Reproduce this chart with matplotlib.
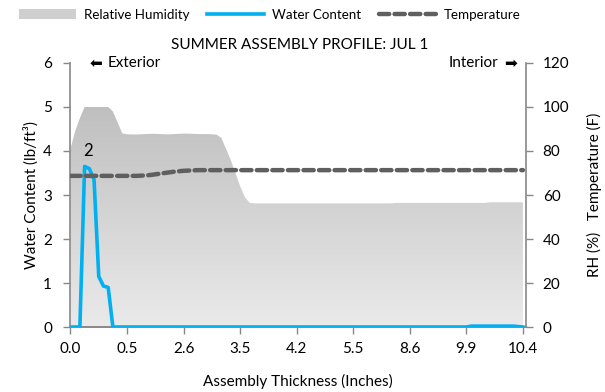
import numpy as np
from matplotlib import pyplot as plt
from matplotlib.patches import Patch
from matplotlib.lines import Line2D
from matplotlib.colors import LinearSegmentedColormap

plt.rcParams['font.family'] = ['Lato', 'DejaVu Sans']

# Category axis (mesh points through the assembly), 97 points
x_labels = ['0.0', '0.5', '2.6', '3.5', '4.2', '5.5', '8.6', '9.9', '10.4']
label_step = 12

# Water content (lb/ft3), left axis
water = [0, 0, 0, 3.65, 3.6, 3.35, 1.15, 0.93, 0.9] + [0] * 76 + [0.02] * 10 + [0.01, 0]

# Relative humidity (%), right axis
rh = ([81, 89, 95, 100, 100, 100, 100, 100, 100, 98, 93, 88,
       87.6, 87.5, 87.5, 87.6, 87.7, 87.8, 87.8, 87.7, 87.6, 87.6, 87.7, 87.8,
       87.9, 87.9, 87.8, 87.7, 87.7, 87.7, 87.6, 87.4,
       86, 81, 76, 70, 64, 59, 56.5]
      + [56.2] * 30 + [56.4] * 20 + [56.7] * 8)

# Temperature (F), right axis
temp = ([68.7] * 15 + [68.8, 68.9, 69.1, 69.4, 69.7, 70.0, 70.3, 70.6, 70.8,
                       71.0, 71.1, 71.2] + [71.3] * 70)

n = len(water)
idx = np.arange(n)

fig = plt.figure(figsize=(6.05, 3.92), dpi=100)
ax1 = fig.add_axes([0.1157, 0.1658, 0.7537, 0.6735])
ax2 = ax1.twinx()

# RH area with vertical gray gradient
poly = ax2.fill_between(idx, 0, rh, color='none', lw=0)
grad = np.linspace(0, 1, 256).reshape(-1, 1)
cmap = LinearSegmentedColormap.from_list('g', ['#eaeaea', '#bdbdbd'])
img = ax2.imshow(grad, cmap=cmap, origin='lower', aspect='auto',
                 extent=[0, n - 1, 0, 105], zorder=1)
img.set_clip_path(poly.get_paths()[0], transform=ax2.transData)

# water content on top of RH; temperature on top of water
ax1.set_zorder(ax2.get_zorder() + 1)
ax1.patch.set_visible(False)
ax1.plot(idx, water, color='#00b0f0', lw=2.6, solid_joinstyle='round', zorder=3)
ax1.plot(idx, temp, transform=ax2.transData, color='#5f5f5f', lw=3.2,
         dashes=(2.3, 1.2), dash_capstyle='round', zorder=4)

ax1.set_xlim(-0.1, n - 1 + 0.65)
ax1.set_ylim(0, 6)
ax2.set_ylim(0, 120)
ax1.set_yticks(range(0, 7))
ax2.set_yticks(range(0, 121, 20))
ax1.set_xticks(idx[::label_step])
ax1.set_xticklabels(x_labels)

for ax in (ax1, ax2):
    for s in ax.spines.values():
        s.set_color('#888888')
        s.set_linewidth(1.2)
    ax.spines['top'].set_visible(False)
    ax.tick_params(colors='#888888', labelcolor='black', labelsize=11, length=5, width=1)
ax1.spines['right'].set_visible(False)
ax2.spines['left'].set_visible(False)
ax1.tick_params(axis='x', pad=6)
ax1.tick_params(axis='y', pad=8)
ax2.tick_params(axis='y', pad=7)

ax1.set_ylabel('Water Content (lb/ft\u00b3)', fontsize=11, labelpad=3)
ax2.set_ylabel('RH (%)   Temperature (F)', fontsize=11, labelpad=13)
ax1.set_xlabel('Assembly Thickness (Inches)', fontsize=11, labelpad=13)

fig.text(0.495, 0.885, 'SUMMER ASSEMBLY PROFILE: JUL 1', ha='center', va='center', fontsize=11)
ax1.text(0.083, 1.0, 'Exterior', transform=ax1.transAxes, ha='left', va='center', fontsize=11)
ax1.text(0.058, 1.0, '\u2b05', transform=ax1.transAxes, ha='center', va='center', fontsize=11,
         family='DejaVu Sans')
ax1.text(0.94, 1.0, 'Interior', transform=ax1.transAxes, ha='right', va='center', fontsize=11)
ax1.text(0.967, 1.0, '\u27a1', transform=ax1.transAxes, ha='center', va='center', fontsize=11,
         family='DejaVu Sans')
ax1.text(3.7, 4.0, '2', ha='center', va='center', fontsize=12)

handles = [Patch(facecolor='#cfcfcf', edgecolor='none'),
           Line2D([], [], color='#00b0f0', lw=2.6),
           Line2D([], [], color='#5f5f5f', lw=3.2, dashes=(2.3, 1.2), dash_capstyle='round')]
fig.legend(handles, ['Relative Humidity', 'Water Content', 'Temperature'],
           loc='center', bbox_to_anchor=(0.446, 0.962), ncol=3, frameon=False,
           fontsize=9.6, handlelength=4.3, handleheight=0.8, columnspacing=1.3, handletextpad=0.6)

fig.savefig('out.png', dpi=100)
